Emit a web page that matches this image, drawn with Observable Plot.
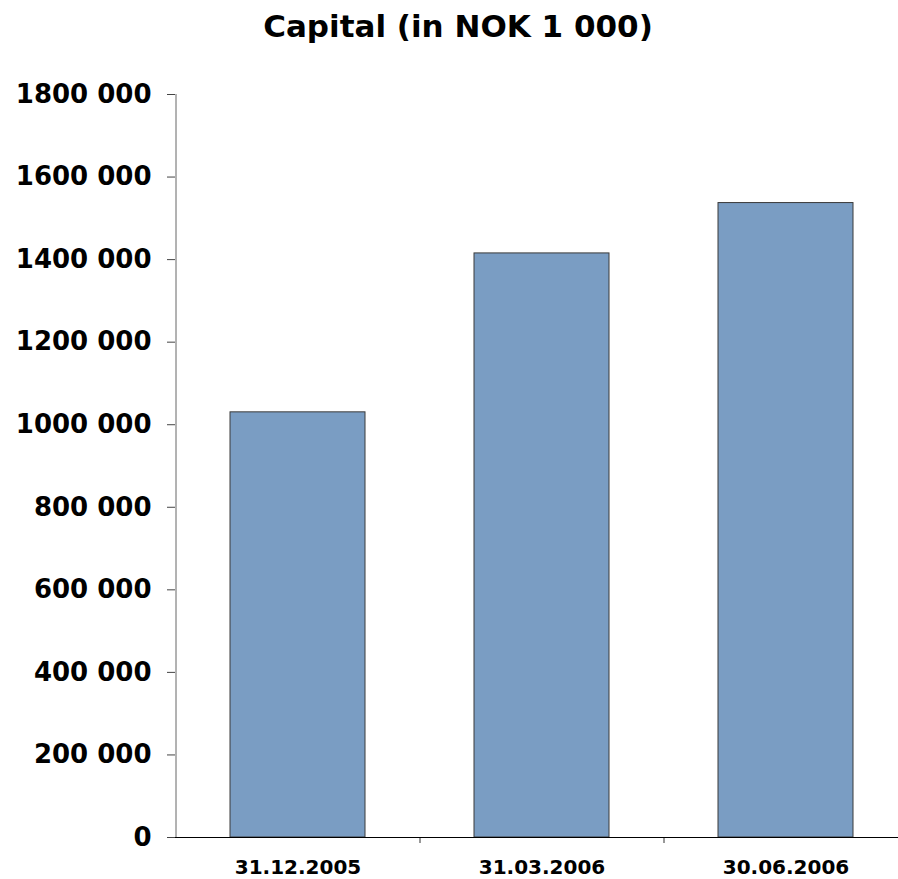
<!DOCTYPE html>
<html>
<head>
<meta charset="utf-8">
<script src="https://cdn.jsdelivr.net/npm/d3@7"></script>
<script src="https://cdn.jsdelivr.net/npm/@observablehq/plot@0.6"></script>
<style>
  html, body { margin: 0; padding: 0; background: #fff; }
  #title {
    width: 898px; height: 60px; box-sizing: border-box; padding-left: 18px;
    text-align: center; line-height: 52px;
    font-family: "DejaVu Sans", Verdana, sans-serif; font-weight: bold; font-size: 31px; color: #000;
  }
  #chart svg { display: block; overflow: visible; }
</style>
</head>
<body>
<div id="title">Capital (in NOK 1 000)</div>
<div id="chart"></div>
<script>
// Reporting dates and capital (NOK thousands)
const dates = ["31.12.2005", "31.03.2006", "30.06.2006"];
const capital = [1030000, 1415000, 1537000];

// Value axis ticks and their printed labels
const yTicks = [0, 200000, 400000, 600000, 800000, 1000000, 1200000, 1400000, 1600000, 1800000];
const yTickLabels = ["0", "200 000", "400 000", "600 000", "800 000", "1000 000", "1200 000", "1400 000", "1600 000", "1800 000"];

const rows = dates.map((date, i) => ({date, capital: capital[i]}));

const font = "'DejaVu Sans', Verdana, sans-serif";
const step = 244; // width of one category band in pixels

const chart = Plot.plot({
  width: 898,
  height: 819,
  marginLeft: 175,
  marginRight: 0,
  marginTop: 34,
  marginBottom: 42,
  style: {fontFamily: font, fontWeight: "bold", color: "#000", background: "#fff"},
  x: {type: "band", domain: dates, range: [175, 175 + 3 * step], paddingInner: 0.447, paddingOuter: 0.2235, align: 0.5},
  y: {domain: [0, 1800000]},
  marks: [
    Plot.barY(rows, {x: "date", y: "capital", fill: "#7A9DC3", stroke: "#3a3a3a", strokeWidth: 1}),
    // value axis line along the left edge of the first band
    Plot.ruleX([dates[0]], {x: d => d, y1: 0, y2: 1800000, dx: -step / 2, stroke: "#666"}),
    // category separator ticks below the baseline
    Plot.ruleX(dates.slice(1), {x: d => d, y1: 0, y2: 0, dx: -step / 2, insetBottom: -6, stroke: "#333"}),
    Plot.ruleY([0], {stroke: "#000", insetLeft: -8}),
    Plot.axisY({
      ticks: yTicks,
      tickFormat: d => yTickLabels[yTicks.indexOf(d)],
      tickSize: 8,
      tickPadding: 16,
      fontSize: 26,
      fontWeight: "bold",
      stroke: "#444",
      label: null
    }),
    Plot.axisX({
      tickSize: 0,
      tickPadding: 22.5,
      fontSize: 20,
      fontWeight: "bold",
      label: null
    })
  ]
});

document.getElementById("chart").appendChild(chart);
</script>
</body>
</html>
